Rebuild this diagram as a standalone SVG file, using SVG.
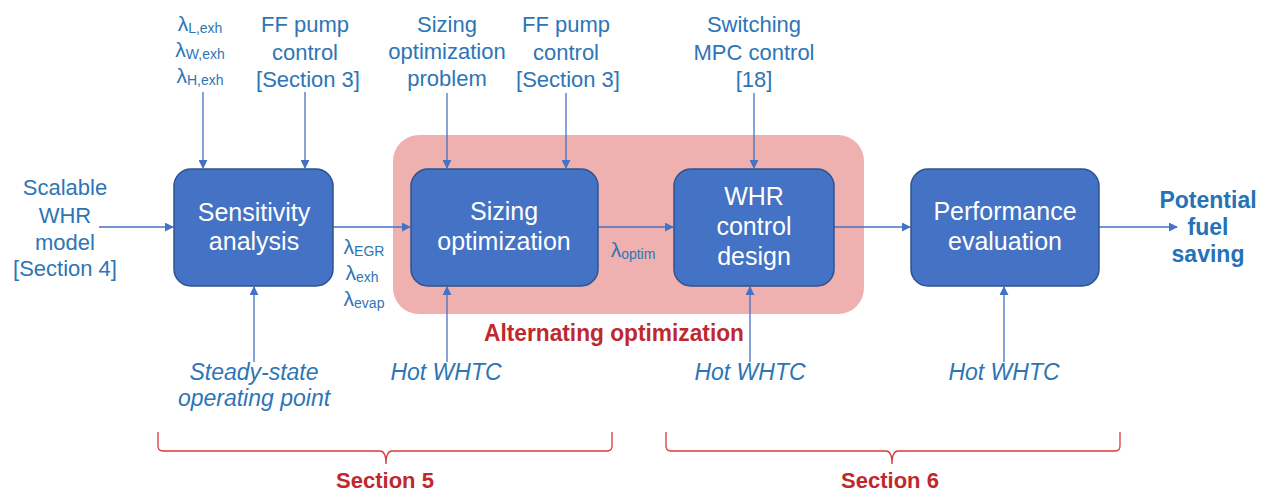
<svg xmlns="http://www.w3.org/2000/svg" width="1267" height="494" viewBox="0 0 1267 494">
<defs>
<style>
.box{fill:#4472C4;stroke:#2F528F;stroke-width:1.5}
.bt{font-family:"Liberation Sans",Arial,sans-serif;font-size:25px;fill:#ffffff;text-anchor:middle}
.lb{font-family:"Liberation Sans",Arial,sans-serif;font-size:22px;fill:#2E75B6;text-anchor:middle}
.lam{font-size:21px}
.it{font-style:italic;font-size:23px}
.sub{font-size:14px}
.red{font-family:"Liberation Sans",Arial,sans-serif;font-weight:bold;fill:#C0282D;text-anchor:middle}
.out{font-family:"Liberation Sans",Arial,sans-serif;font-weight:bold;font-size:23px;fill:#2472B8;text-anchor:middle}
.ln{stroke:#4472C4;stroke-width:1.3;fill:none}
.br{stroke:#D9383D;stroke-width:1.3;fill:none}
</style>
<marker id="ah" viewBox="0 0 10 10" refX="9" refY="5" markerWidth="9" markerHeight="9" markerUnits="userSpaceOnUse" orient="auto">
<path d="M0,0 L10,5 L0,10 z" fill="#4472C4"/>
</marker>
</defs>
<rect width="1267" height="494" fill="#ffffff"/>

<g id="alternating-group">
<rect x="393" y="135" width="471" height="179" rx="26" fill="#EFB1B0"/>
<text class="red" x="614" y="341" font-size="23" textLength="260" lengthAdjust="spacingAndGlyphs">Alternating optimization</text>
</g>

<g id="connectors">
<line class="ln" x1="99" y1="227" x2="173" y2="227" marker-end="url(#ah)"/>
<line class="ln" x1="333" y1="227" x2="410" y2="227" marker-end="url(#ah)"/>
<line class="ln" x1="598" y1="227" x2="673" y2="227" marker-end="url(#ah)"/>
<line class="ln" x1="834" y1="227" x2="910" y2="227" marker-end="url(#ah)"/>
<line class="ln" x1="1099" y1="227" x2="1177" y2="227" marker-end="url(#ah)"/>
<line class="ln" x1="203" y1="92" x2="203" y2="168" marker-end="url(#ah)"/>
<line class="ln" x1="305" y1="92" x2="305" y2="168" marker-end="url(#ah)"/>
<line class="ln" x1="447" y1="93" x2="447" y2="168" marker-end="url(#ah)"/>
<line class="ln" x1="566" y1="93" x2="566" y2="168" marker-end="url(#ah)"/>
<line class="ln" x1="754" y1="93" x2="754" y2="168" marker-end="url(#ah)"/>
<line class="ln" x1="254" y1="362" x2="254" y2="287" marker-end="url(#ah)"/>
<line class="ln" x1="447" y1="362" x2="447" y2="287" marker-end="url(#ah)"/>
<line class="ln" x1="750" y1="362" x2="750" y2="287" marker-end="url(#ah)"/>
<line class="ln" x1="1004" y1="362" x2="1004" y2="287" marker-end="url(#ah)"/>
</g>

<g id="sensitivity">
<rect class="box" x="174" y="169" width="159" height="117" rx="17"/>
<text class="bt" x="254" y="221">Sensitivity</text>
<text class="bt" x="254" y="250">analysis</text>
</g>
<g id="sizing">
<rect class="box" x="411" y="169" width="187" height="117" rx="17"/>
<text class="bt" x="504" y="220">Sizing</text>
<text class="bt" x="504" y="250">optimization</text>
</g>
<g id="whr-control">
<rect class="box" x="674" y="169" width="160" height="117" rx="17"/>
<text class="bt" x="754" y="205">WHR</text>
<text class="bt" x="754" y="235">control</text>
<text class="bt" x="754" y="265">design</text>
</g>
<g id="performance">
<rect class="box" x="911" y="169" width="188" height="117" rx="17"/>
<text class="bt" x="1005" y="220">Performance</text>
<text class="bt" x="1005" y="250">evaluation</text>
</g>

<g id="label-lambda-exh">
<text class="lb lam" x="200" y="31">λ<tspan class="sub" dy="2">L,exh</tspan></text>
<text class="lb lam" x="200" y="57">λ<tspan class="sub" dy="2">W,exh</tspan></text>
<text class="lb lam" x="200" y="83">λ<tspan class="sub" dy="2">H,exh</tspan></text>
</g>
<g id="label-ff1">
<text class="lb" x="305" y="32">FF pump</text>
<text class="lb" x="305" y="60">control</text>
<text class="lb" x="308" y="87">[Section 3]</text>
</g>
<g id="label-sizing-problem">
<text class="lb" x="447" y="32">Sizing</text>
<text class="lb" x="447" y="59">optimization</text>
<text class="lb" x="447" y="86">problem</text>
</g>
<g id="label-ff2">
<text class="lb" x="566" y="32">FF pump</text>
<text class="lb" x="566" y="60">control</text>
<text class="lb" x="568" y="87">[Section 3]</text>
</g>
<g id="label-mpc">
<text class="lb" x="754" y="32">Switching</text>
<text class="lb" x="754" y="60">MPC control</text>
<text class="lb" x="754" y="87">[18]</text>
</g>
<g id="label-model">
<text class="lb" x="65" y="195">Scalable</text>
<text class="lb" x="65" y="223">WHR</text>
<text class="lb" x="65" y="250">model</text>
<text class="lb" x="65" y="276">[Section 4]</text>
</g>
<g id="label-lambda-out">
<text class="lb lam" x="364" y="254">λ<tspan class="sub" dy="2">EGR</tspan></text>
<text class="lb lam" x="362" y="280">λ<tspan class="sub" dy="2">exh</tspan></text>
<text class="lb lam" x="364" y="306">λ<tspan class="sub" dy="2">evap</tspan></text>
</g>
<g id="label-lambda-optim">
<text class="lb lam" x="633" y="257">λ<tspan class="sub" dy="2">optim</tspan></text>
</g>
<g id="label-steady">
<text class="lb it" x="254" y="380">Steady-state</text>
<text class="lb it" x="254" y="406">operating point</text>
</g>
<g id="label-hot1"><text class="lb it" x="446" y="380">Hot WHTC</text></g>
<g id="label-hot2"><text class="lb it" x="750" y="380">Hot WHTC</text></g>
<g id="label-hot3"><text class="lb it" x="1004" y="380">Hot WHTC</text></g>
<g id="label-output">
<text class="out" x="1208" y="208">Potential</text>
<text class="out" x="1208" y="235">fuel</text>
<text class="out" x="1208" y="262">saving</text>
</g>

<g id="section5">
<path class="br" d="M158,432 L158,446 Q158,451 163,451 L380,451 Q386,451 386,464 Q386,451 392,451 L607,451 Q612,451 612,446 L612,432"/>
<text class="red" x="385" y="488" font-size="22">Section 5</text>
</g>
<g id="section6">
<path class="br" d="M666,432 L666,446 Q666,451 671,451 L886,451 Q892,451 892,464 Q892,451 898,451 L1115,451 Q1120,451 1120,446 L1120,432"/>
<text class="red" x="890" y="488" font-size="22">Section 6</text>
</g>
</svg>
